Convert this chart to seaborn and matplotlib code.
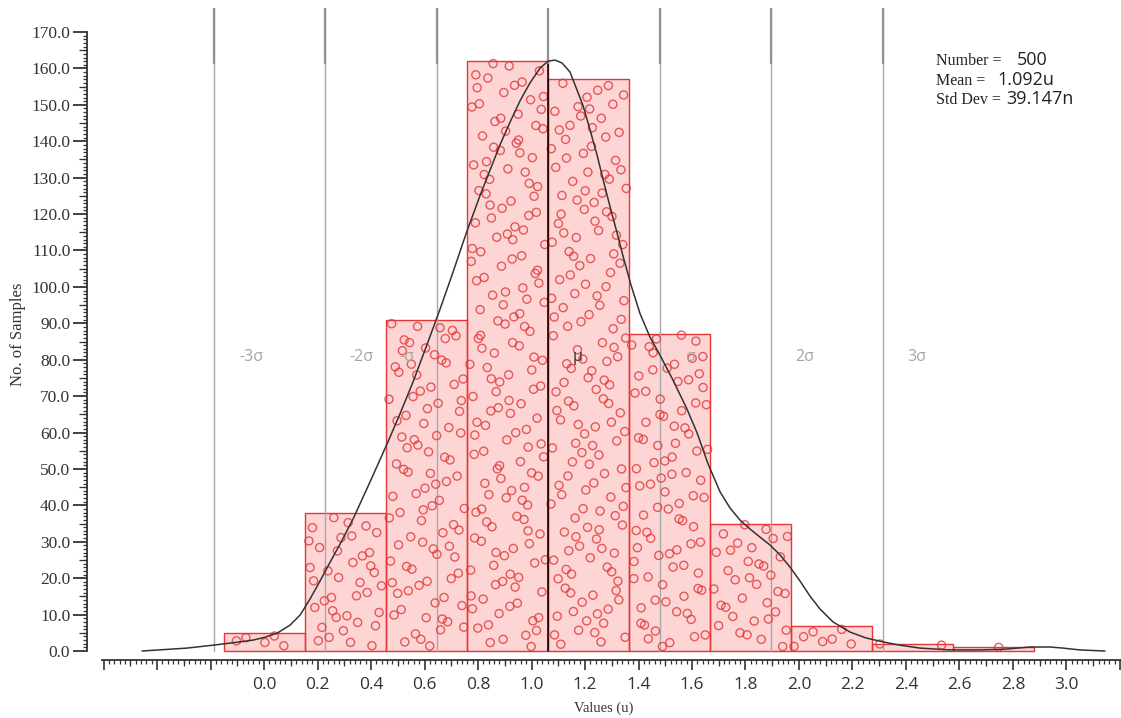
import numpy as np
import pandas as pd
import matplotlib
matplotlib.use("Agg")
import matplotlib.pyplot as plt
from matplotlib.ticker import FixedLocator
import seaborn as sns

# Histogram bins (values in u) and counts per bin
BIN_EDGES = [-0.148, 0.154, 0.457, 0.760, 1.062, 1.365, 1.668, 1.970, 2.273, 2.575, 2.878]
BIN_COUNTS = [5, 38, 91, 162, 157, 87, 35, 7, 2, 1]

# Density curve
CURVE_X = [-0.456, -0.288, -0.191, -0.090, -0.041, 0.004, 0.049, 0.097, 0.135, 0.172,
           0.209, 0.247, 0.288, 0.333, 0.396, 0.460, 0.508, 0.557, 0.613, 0.658,
           0.703, 0.759, 0.807, 0.845, 0.882, 0.920, 0.957, 0.994, 1.032, 1.062,
           1.088, 1.114, 1.144, 1.170, 1.193, 1.219, 1.245, 1.271, 1.293, 1.320,
           1.342, 1.372, 1.406, 1.443, 1.480, 1.529, 1.581, 1.619, 1.660, 1.705,
           1.742, 1.779, 1.817, 1.854, 1.892, 1.929, 1.966, 2.004, 2.041, 2.079,
           2.127, 2.191, 2.250, 2.314, 2.378, 2.452, 2.564, 2.677, 2.770, 2.864,
           2.938, 2.987, 3.050, 3.144]
CURVE_Y = [0.0, 0.8, 1.6, 2.5, 3.0, 3.8, 4.9, 7.1, 9.9, 14.3,
           19.2, 24.4, 29.9, 36.3, 46.4, 56.9, 65.1, 73.9, 84.9, 93.9,
           103.3, 115.4, 125.0, 132.1, 139.0, 145.3, 151.1, 156.0, 160.1, 162.0,
           162.3, 161.5, 159.0, 154.1, 149.7, 143.1, 136.2, 128.5, 122.2, 114.8,
           108.5, 100.5, 92.6, 86.2, 81.3, 74.4, 66.5, 59.9, 51.4, 43.7,
           39.3, 36.0, 33.5, 31.3, 29.1, 26.4, 23.1, 19.2, 15.1, 11.5,
           8.0, 5.2, 3.6, 2.5, 1.6, 0.8, 0.3, 0.3, 0.5, 1.1,
           1.1, 0.8, 0.3, 0.0]

# Sigma marker lines and their labels
SIGMA_LINES = [-0.187, 0.228, 0.647, 1.062, 1.480, 1.895, 2.314]
SIGMA_LABELS = ["-3σ", "-2σ", "-σ", "μ", "σ", "2σ", "3σ"]
SIGMA_LABEL_X = [-0.049, 0.363, 0.535, 1.174, 1.593, 2.022, 2.441]
SIGMA_LABEL_Y = 80.8

STATS_KEYS = ["Number = ", "Mean = ", "Std Dev = "]
STATS_VALUES = ["500", "1.092u", "39.147n"]

SERIF = "Liberation Serif"
SANS = "Open Sans"
RED = "#e43636"


def halton(i, base):
    f, r = 1.0, 0.0
    while i > 0:
        f /= base
        r += f * (i % base)
        i //= base
    return r


def sample_points():
    # The individual samples can't be read one by one, so each bar gets as many
    # circles as its count, spread over the bar with a fixed low-discrepancy layout.
    xs, ys = [], []
    k = 1
    for lo, hi, n in zip(BIN_EDGES[:-1], BIN_EDGES[1:], BIN_COUNTS):
        w = hi - lo
        for _ in range(n):
            xs.append(lo + w * (0.03 + 0.94 * halton(k, 2)))
            ys.append(1 + (n - 1) * halton(k, 3))
            k += 1
    return pd.DataFrame({"x": xs, "y": ys})


def main():
    sns.set_theme(style="ticks")
    plt.rcParams["font.family"] = [SERIF, "DejaVu Serif"]

    W, H = 1121, 718
    fig = plt.figure(figsize=(W / 100, H / 100), dpi=100)
    ax = fig.add_axes([87 / W, 1 - 660 / H, 1 - 87 / W, (660 - 8) / H])

    centers = [(a + b) / 2 for a, b in zip(BIN_EDGES[:-1], BIN_EDGES[1:])]
    sns.histplot(x=centers, weights=BIN_COUNTS, bins=BIN_EDGES, ax=ax,
                 facecolor=(0.97, 0.1, 0.1, 0.18), edgecolor=RED, linewidth=1.0,
                 zorder=1)

    ymax = 176.6
    for xv, lab, lx in zip(SIGMA_LINES, SIGMA_LABELS, SIGMA_LABEL_X):
        if lab == "μ":
            ax.plot([xv, xv], [0, 166], color="black", lw=1.1, zorder=3)
            tcol = "#333333"
        else:
            ax.plot([xv, xv], [0, ymax], color="#a8a8a8", lw=1.0, zorder=2)
            tcol = "#a6a6a6"
        ax.plot([xv, xv], [161.5, ymax], color="#909090", lw=1.6, zorder=3)
        ax.text(lx, SIGMA_LABEL_Y, lab, color=tcol, fontsize=11.5, family=SANS,
                ha="center", va="center", zorder=4)

    pts = sample_points()
    sns.scatterplot(data=pts, x="x", y="y", ax=ax, marker="o", s=34,
                    facecolor="none", edgecolor=RED, linewidth=1.0,
                    alpha=0.8, zorder=2.5, clip_on=False)

    sns.lineplot(x=CURVE_X, y=CURVE_Y, ax=ax, color="#333333", lw=1.1,
                 sort=False, zorder=5)

    ax.set_xlim(-0.662, 3.204)
    ax.set_ylim(-2.47, ymax)
    for s in ["top", "right"]:
        ax.spines[s].set_visible(False)
    ax.spines["left"].set_bounds(0, 170)
    ax.spines["bottom"].set_bounds(-0.606, 3.204)
    for s in ["left", "bottom"]:
        ax.spines[s].set_color("#333333")
        ax.spines[s].set_linewidth(1.3)

    # y axis ticks
    yt = np.arange(0, 171, 10)
    ax.set_yticks(yt)
    ax.set_yticklabels([f"{v:.1f}" for v in yt], family=SERIF, fontsize=12.5,
                       color="#333333")
    ax.yaxis.set_minor_locator(FixedLocator(np.arange(0, 171, 1)))
    ax.tick_params(axis="y", which="major", length=10, width=1.3, pad=2,
                   color="#333333")
    ax.tick_params(axis="y", which="minor", length=3, width=0.9, color="#333333")
    sec_y = ax.secondary_yaxis("left")
    sec_y.set_yticks(np.arange(5, 170, 10))
    sec_y.set_yticklabels([])
    sec_y.tick_params(length=6, width=0.9, color="#333333")
    sec_y.spines["left"].set_visible(False)

    # x axis ticks
    xt = np.round(np.arange(-0.6, 3.21, 0.2), 1)
    ax.set_xticks(xt)
    ax.set_xticklabels([f"{v:.1f}" if 0 <= v <= 3.0 else "" for v in xt],
                       family=SANS, fontsize=12.5, color="#333333")
    ax.xaxis.set_minor_locator(FixedLocator(np.arange(-0.6, 3.205, 0.02)))
    ax.tick_params(axis="x", which="major", length=7.5, width=1.2, pad=5,
                   color="#333333")
    ax.tick_params(axis="x", which="minor", length=3, width=0.9, color="#333333")
    sec_x = ax.secondary_xaxis("bottom")
    sec_x.set_xticks(np.round(np.arange(-0.5, 3.2, 0.2), 1))
    sec_x.set_xticklabels([])
    sec_x.tick_params(length=4.5, width=0.9, color="#333333")
    sec_x.spines["bottom"].set_visible(False)

    ax.set_xlabel("Values (u)", family=SERIF, fontsize=10.5, color="#333333",
                  labelpad=6)
    ax.set_ylabel("No. of Samples", family=SERIF, fontsize=12, color="#333333",
                  labelpad=4)

    # statistics block
    key_x = 936
    val_x = [1017, 997, 1006]
    base_y = [65, 85, 104]
    for key, val, vx, by in zip(STATS_KEYS, STATS_VALUES, val_x, base_y):
        fig.text(key_x / W, 1 - by / H, key, family=SERIF, fontsize=11.5,
                 color="#222222", va="baseline")
        fig.text(vx / W, 1 - by / H, val, family=SANS, fontsize=13,
                 color="#222222", va="baseline")

    fig.savefig("out.png", dpi=100)
    plt.close(fig)


if __name__ == "__main__":
    main()
